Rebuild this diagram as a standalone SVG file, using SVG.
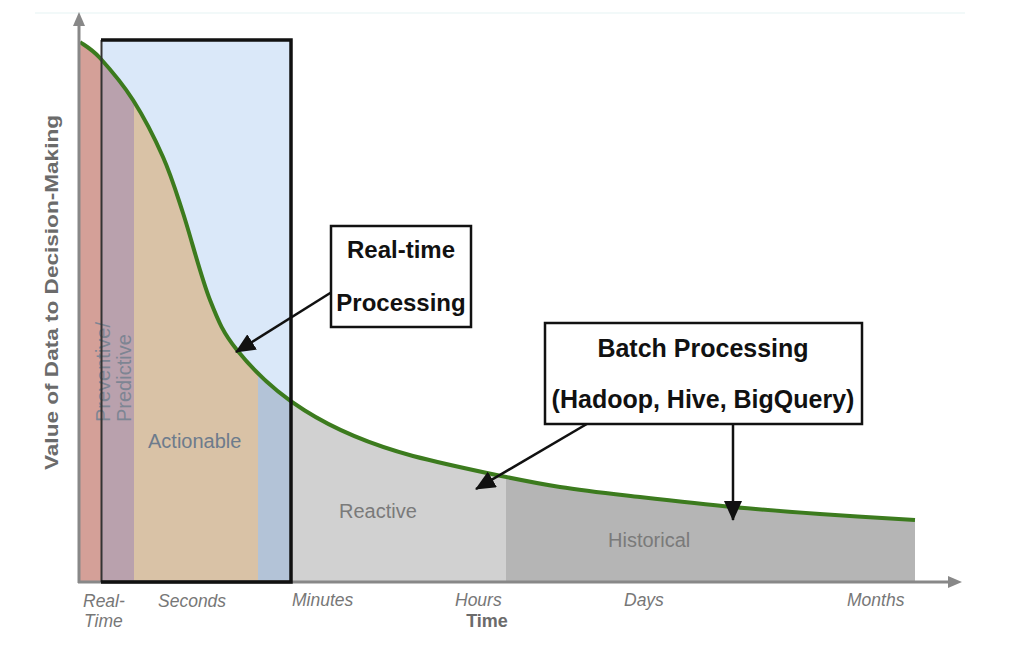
<svg xmlns="http://www.w3.org/2000/svg" width="1012" height="650" viewBox="0 0 1012 650">
<style>
.ax{font-family:"Liberation Sans",Arial,sans-serif;font-style:italic;font-size:17.5px;fill:#777}
.reg{font-family:"Liberation Sans",Arial,sans-serif;font-size:20px;fill:#7a7a7a}
.box{fill:#fff;stroke:#111;stroke-width:2.5}
.bt{font-family:"Liberation Sans",Arial,sans-serif;font-weight:bold;font-size:25px;fill:#111;text-anchor:middle}
.arr{stroke:#111;stroke-width:2.5;fill:none;marker-end:url(#tri)}
</style>
<defs>
<marker id="tri" viewBox="0 0 20 18" refX="19" refY="9" markerWidth="20" markerHeight="18" markerUnits="userSpaceOnUse" orient="auto">
<path d="M0,0 L20,9 L0,18 Z" fill="#111"/>
</marker>
<clipPath id="under">
<path d="M80,42 C83.3,44.7 91.2,48.3 100,58 C108.8,67.7 122.5,83.5 133,100 C143.5,116.5 154.7,138.2 163,157 C171.3,175.8 175.2,189.2 183,213 C190.8,236.8 201,277.2 210,300 C219,322.8 223.2,332.8 237,350 C272,393.75 323,431.7 413,456 C436.3,462 462.5,467.8 487,473 C511.5,478.2 534.5,483 560,487 C585.5,491 611.2,493.7 640,497 C668.8,500.3 703,504.2 733,507 C763,509.8 789.7,511.8 820,514 C850.3,516.2 899.2,519 915,520 L915,582 L79,582 L79,42 Z"/>
</clipPath>
</defs>
<rect width="1012" height="650" fill="#fff"/>
<line x1="35" y1="13" x2="965" y2="13" stroke="#eef7f7" stroke-width="1.5"/>

<g id="chart-areas">
<rect x="101" y="40" width="190" height="542" fill="#dae8f9"/>
<g clip-path="url(#under)">
<rect x="79" y="30" width="22" height="552" fill="#d4a098"/>
<rect x="101" y="30" width="33" height="552" fill="#b9a1ad"/>
<rect x="134" y="30" width="124" height="552" fill="#d9c2a6"/>
<rect x="258" y="30" width="33" height="552" fill="#b3c3d7"/>
<rect x="291" y="30" width="215" height="552" fill="#d1d1d1"/>
<rect x="506" y="30" width="409" height="552" fill="#b5b5b5"/>
</g>
<path id="curve" d="M80,42 C83.3,44.7 91.2,48.3 100,58 C108.8,67.7 122.5,83.5 133,100 C143.5,116.5 154.7,138.2 163,157 C171.3,175.8 175.2,189.2 183,213 C190.8,236.8 201,277.2 210,300 C219,322.8 223.2,332.8 237,350 C272,393.75 323,431.7 413,456 C436.3,462 462.5,467.8 487,473 C511.5,478.2 534.5,483 560,487 C585.5,491 611.2,493.7 640,497 C668.8,500.3 703,504.2 733,507 C763,509.8 789.7,511.8 820,514 C850.3,516.2 899.2,519 915,520" fill="none" stroke="#3c7b1e" stroke-width="4"/>
</g>

<g id="region-labels">
<text class="reg" transform="translate(110,422) rotate(-90)" style="fill:#7d8593">Preventive/</text>
<text class="reg" transform="translate(131,422) rotate(-90)" style="fill:#7d8593">Predictive</text>
<text class="reg" x="148" y="448" style="fill:#6d7b8c">Actionable</text>
<text class="reg" x="339" y="518">Reactive</text>
<text class="reg" x="608" y="547">Historical</text>
</g>

<g id="axes">
<line x1="79" y1="24" x2="79" y2="583" stroke="#888" stroke-width="3"/>
<path d="M73,26 L79,12 L85,26 Z" fill="#888"/>
<line x1="78" y1="582" x2="950" y2="582" stroke="#888" stroke-width="3"/>
<path d="M948,576 L962,582 L948,588 Z" fill="#888"/>
<text x="0" y="0" transform="translate(58,470) rotate(-90)" textLength="355" lengthAdjust="spacingAndGlyphs" style="font-family:'Liberation Sans',Arial,sans-serif;font-weight:bold;font-size:18px;fill:#6b6b6b">Value of Data to Decision-Making</text>
<text class="ax" x="83" y="607">Real-</text>
<text class="ax" x="84" y="627">Time</text>
<text class="ax" x="158" y="607">Seconds</text>
<text class="ax" x="292" y="606">Minutes</text>
<text class="ax" x="455" y="606">Hours</text>
<text class="ax" x="624" y="606">Days</text>
<text class="ax" x="847" y="606">Months</text>
<text x="487" y="627" text-anchor="middle" style="font-family:'Liberation Sans',Arial,sans-serif;font-weight:bold;font-size:18px;fill:#6b6b6b">Time</text>
</g>

<g id="realtime-frame">
<line x1="101.5" y1="40" x2="101.5" y2="582" stroke="#333" stroke-width="2"/>
<path d="M101,40 L291,40 L291,582 L101,582" fill="none" stroke="#111" stroke-width="3.5"/>
</g>

<g id="connectors">
<line class="arr" x1="335" y1="290" x2="236" y2="352"/>
<line class="arr" x1="597" y1="418" x2="476" y2="489"/>
<line class="arr" x1="733" y1="424" x2="733" y2="520"/>
</g>

<g id="realtime-box">
<rect class="box" x="331" y="226" width="140" height="101"/>
<text class="bt" x="401" y="258" style="font-size:24px">Real-time</text>
<text class="bt" x="401" y="311" style="font-size:24px">Processing</text>
</g>

<g id="batch-box">
<rect class="box" x="545" y="323" width="317" height="101"/>
<text class="bt" x="703" y="357">Batch Processing</text>
<text class="bt" x="703" y="408">(Hadoop, Hive, BigQuery)</text>
</g>
</svg>
